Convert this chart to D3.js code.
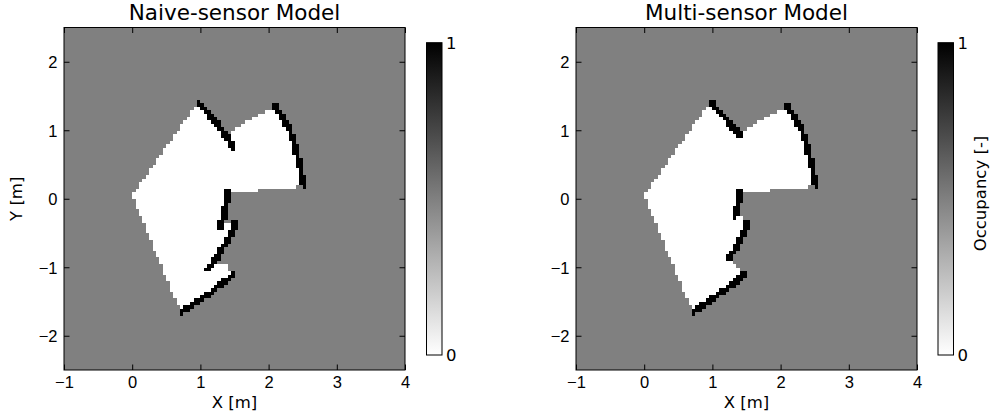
<!DOCTYPE html>
<html>
<head>
<meta charset="utf-8">
<script src="https://cdn.jsdelivr.net/npm/d3@7"></script>
<style>
  body { margin: 0; background: #fff; }
  svg { display: block; font-family: "DejaVu Sans", sans-serif; }
</style>
</head>
<body>
<svg id="chart" width="993" height="419"></svg>
<script>
// --- data (metres) -----------------------------------------------------------
const cellSize = 0.05;
const xDomain = [-1, 4];
const yDomain = [-2.5, 2.5];
const xTicks = [-1, 0, 1, 2, 3, 4];
const yTicks = [-2, -1, 0, 1, 2];
const cbTicks = [0, 1];
const titles = ["Naive-sensor Model", "Multi-sensor Model"];

// free-space outline, counter-clockwise from the sensor
const naiveFree = [[0.00,0.05],[0.68,-1.58],[0.73,-1.65],[0.87,-1.55],[1.02,-1.45],[1.17,-1.36],[1.29,-1.26],
  [1.39,-1.18],[1.46,-1.11],[1.37,-0.95],[1.19,-0.95],[1.14,-0.99],[1.19,-0.92],[1.26,-0.82],[1.34,-0.70],
  [1.41,-0.58],[1.47,-0.48],[1.50,-0.36],[1.44,-0.33],[1.31,-0.36],[1.34,-0.26],[1.36,-0.14],[1.40,0.01],
  [1.41,0.10],[1.45,0.10],[2.05,0.14],[2.44,0.18],[2.51,0.22],[2.49,0.33],[2.47,0.45],[2.44,0.60],[2.40,0.74],
  [2.36,0.89],[2.30,1.03],[2.24,1.13],[2.17,1.25],[2.09,1.35],[2.05,1.33],[1.85,1.23],[1.65,1.11],[1.46,1.01],
  [1.39,0.91],[1.31,1.01],[1.21,1.13],[1.09,1.28],[0.98,1.40],[0.92,1.35],[0.90,1.33]];
const multiFree = [[0.00,0.05],[0.68,-1.58],[0.75,-1.64],[0.92,-1.51],[1.07,-1.40],[1.21,-1.31],[1.34,-1.22],
  [1.45,-1.10],[1.41,-1.06],[1.24,-0.87],[1.29,-0.79],[1.36,-0.67],[1.43,-0.55],[1.47,-0.48],[1.51,-0.36],
  [1.46,-0.26],[1.34,-0.24],[1.36,-0.11],[1.40,-0.02],[1.41,0.10],[1.45,0.10],[2.05,0.14],[2.44,0.18],
  [2.51,0.22],[2.49,0.33],[2.47,0.45],[2.44,0.60],[2.40,0.74],[2.36,0.89],[2.30,1.03],[2.24,1.13],[2.17,1.25],
  [2.09,1.35],[2.05,1.33],[1.85,1.23],[1.65,1.11],[1.41,0.95],[0.98,1.41],[0.92,1.35],[0.90,1.33]];

// occupied walls (polylines)
const wallB = [[2.094,1.350],[2.167,1.253],[2.240,1.130],[2.299,1.033],[2.362,0.887],[2.397,0.741],
  [2.435,0.595],[2.471,0.449],[2.485,0.326],[2.509,0.215]];
const naiveWallA = [[0.979,1.399],[1.092,1.276],[1.214,1.130],[1.312,1.009],[1.386,0.911],[1.449,0.814],[1.483,0.750]];
const naiveWallC = [[1.409,0.098],[1.400,0.010],[1.361,-0.136],[1.336,-0.259],[1.312,-0.355],[1.277,-0.419]];
const naiveWallD = [[1.497,-0.355],[1.468,-0.478],[1.409,-0.575],[1.336,-0.697],[1.263,-0.819],[1.190,-0.917],[1.141,-0.990],[1.116,-1.020]];
const naiveWallE = [[0.726,-1.647],[0.872,-1.550],[1.019,-1.452],[1.166,-1.355],[1.287,-1.257],[1.386,-1.184],[1.459,-1.111]];
const multiWallA = [[0.979,1.414],[1.409,0.936]];
const multiWallC = [[1.409,0.098],[1.400,-0.015],[1.361,-0.112],[1.336,-0.234]];
const multiWallD = [[1.507,-0.355],[1.468,-0.478],[1.434,-0.551],[1.361,-0.673],[1.287,-0.794],[1.239,-0.867]];
const multiWallE = [[0.749,-1.637],[0.921,-1.510],[1.067,-1.404],[1.214,-1.306],[1.336,-1.218],[1.449,-1.101]];

const naiveWalls = [naiveWallA, wallB, naiveWallC, naiveWallD, naiveWallE];
const multiWalls = [multiWallA, wallB, multiWallC, multiWallD, multiWallE];

// --- helpers -----------------------------------------------------------------
function segDist(p, a, b){
  const dx = b[0]-a[0], dy = b[1]-a[1];
  const L = dx*dx + dy*dy;
  let t = L ? ((p[0]-a[0])*dx + (p[1]-a[1])*dy) / L : 0;
  t = Math.max(0, Math.min(1, t));
  const x = a[0] + t*dx - p[0], y = a[1] + t*dy - p[1];
  return Math.sqrt(x*x + y*y);
}
function lineDist(p, pts){
  let d = Infinity;
  for (let i = 1; i < pts.length; i++) d = Math.min(d, segDist(p, pts[i-1], pts[i]));
  return d;
}

// occupancy grid: 0 free, 0.5 unknown, 1 occupied -> merged row runs
function gridRuns(free, walls){
  const nx = Math.round((xDomain[1]-xDomain[0]) / cellSize);
  const ny = Math.round((yDomain[1]-yDomain[0]) / cellSize);
  const runs = [];
  for (let j = 0; j < ny; j++){
    const y0 = yDomain[0] + j*cellSize;
    let cur = null;
    for (let i = 0; i < nx; i++){
      const x0 = xDomain[0] + i*cellSize;
      const c = [x0 + cellSize/2, y0 + cellSize/2];
      let v = 0.5;
      if (d3.polygonContains(free, c)) v = 0;
      if (walls.some(w => lineDist(c, w) < 0.045)) v = 1;
      if (cur && cur.v === v) cur.x1 = x0 + cellSize;
      else { cur = {x0, x1: x0 + cellSize, y0, y1: y0 + cellSize, v}; runs.push(cur); }
    }
  }
  return runs;
}

const color = d3.scaleLinear().domain([0, 1]).range(["#ffffff", "#000000"]);

// --- drawing -----------------------------------------------------------------
const svg = d3.select('#chart');
const defs = svg.append('defs');
defs.append('filter').attr('id', 'soft')
  .attr('x', '-2%').attr('y', '-2%').attr('width', '104%').attr('height', '104%')
  .append('feGaussianBlur').attr('stdDeviation', 0.75);

const grad = defs.append('linearGradient').attr('id', 'cbgrad')
  .attr('x1', 0).attr('y1', 1).attr('x2', 0).attr('y2', 0);
d3.range(0, 1.0001, 0.1).forEach(t =>
  grad.append('stop').attr('offset', t).attr('stop-color', color(t)));

const panels = [
  {title: titles[0], free: naiveFree, walls: naiveWalls, left: 64, cbx: 426.5, cblabel: false},
  {title: titles[1], free: multiFree, walls: multiWalls, left: 576, cbx: 938, cblabel: true}
];
const plotTop = 27.5, plotBottom = 370, side = 341;

panels.forEach((p, k) => {
  const x = d3.scaleLinear().domain(xDomain).range([p.left, p.left + side]);
  const y = d3.scaleLinear().domain(yDomain).range([plotBottom, plotTop]);
  const g = svg.append('g');

  defs.append('clipPath').attr('id', 'clip' + k)
    .append('rect').attr('x', x(xDomain[0])).attr('y', plotTop).attr('width', side).attr('height', plotBottom - plotTop);

  g.append('g').attr('clip-path', `url(#clip${k})`)
    .append('g').attr('filter', 'url(#soft)')
    .selectAll('rect')
    .data(gridRuns(p.free, p.walls))
    .join('rect')
      .attr('x', d => x(d.x0))
      .attr('y', d => y(d.y1))
      .attr('width', d => x(d.x1) - x(d.x0))
      .attr('height', d => y(d.y0) - y(d.y1) + 0.4)
      .attr('fill', d => color(d.v))
      .attr('shape-rendering', 'crispEdges');

  // axes, matplotlib-style inward ticks on all sides
  const fmt = d3.format('d');
  const ax = (axis, tr, labels) => {
    const a = g.append('g').attr('transform', tr).call(axis.tickSizeOuter(0).tickSize(-5.5).tickFormat(labels ? fmt : ''));
    a.select('.domain').remove();
    a.selectAll('.tick line').attr('stroke', '#000');
    a.selectAll('text').attr('fill', '#000').style('font-size', '16.5px');
    return a;
  };
  const bx = ax(d3.axisBottom(x).tickValues(xTicks).tickPadding(5), `translate(0,${plotBottom})`, true);
  bx.selectAll('text').attr('dy', null).attr('y', 18.3);
  ax(d3.axisTop(x).tickValues(xTicks), `translate(0,${plotTop})`, false);
  const lx = ax(d3.axisLeft(y).tickValues(yTicks).tickPadding(0), `translate(${p.left},0)`, true);
  lx.selectAll('text').attr('x', -6.5).attr('dy', '0.36em');
  ax(d3.axisRight(y).tickValues(yTicks), `translate(${p.left + side},0)`, false);

  g.append('rect')
    .attr('x', p.left).attr('y', plotTop).attr('width', side).attr('height', plotBottom - plotTop)
    .attr('fill', 'none').attr('stroke', '#000').attr('stroke-width', 1);

  g.append('text')
    .attr('x', p.left + side/2).attr('y', 20)
    .attr('text-anchor', 'middle').style('font-size', '21.5px')
    .text(p.title);

  g.append('text')
    .attr('x', p.left + side/2).attr('y', 408)
    .attr('text-anchor', 'middle').style('font-size', '16.5px')
    .text('X [m]');

  if (k === 0){
    g.append('text')
      .attr('transform', `translate(22,${(plotTop + plotBottom)/2}) rotate(-90)`)
      .attr('text-anchor', 'middle').style('font-size', '16.5px')
      .text('Y [m]');
  }

  // colorbar
  const cy = d3.scaleLinear().domain([0, 1]).range([355, 42.7]);
  const cbw = 15.5;
  g.append('rect')
    .attr('x', p.cbx).attr('y', cy(1)).attr('width', cbw).attr('height', cy(0) - cy(1))
    .attr('fill', 'url(#cbgrad)').attr('stroke', '#000').attr('stroke-width', 1);
  g.append('g').selectAll('text')
    .data(cbTicks)
    .join('text')
      .attr('x', p.cbx + cbw + 4)
      .attr('y', d => cy(d))
      .attr('dy', '0.36em')
      .style('font-size', '16.5px')
      .text(d => d);

  if (p.cblabel){
    g.append('text')
      .attr('transform', `translate(986,193.5) rotate(-90)`)
      .attr('text-anchor', 'middle').style('font-size', '16.5px')
      .text('Occupancy [-]');
  }
});
</script>
</body>
</html>
